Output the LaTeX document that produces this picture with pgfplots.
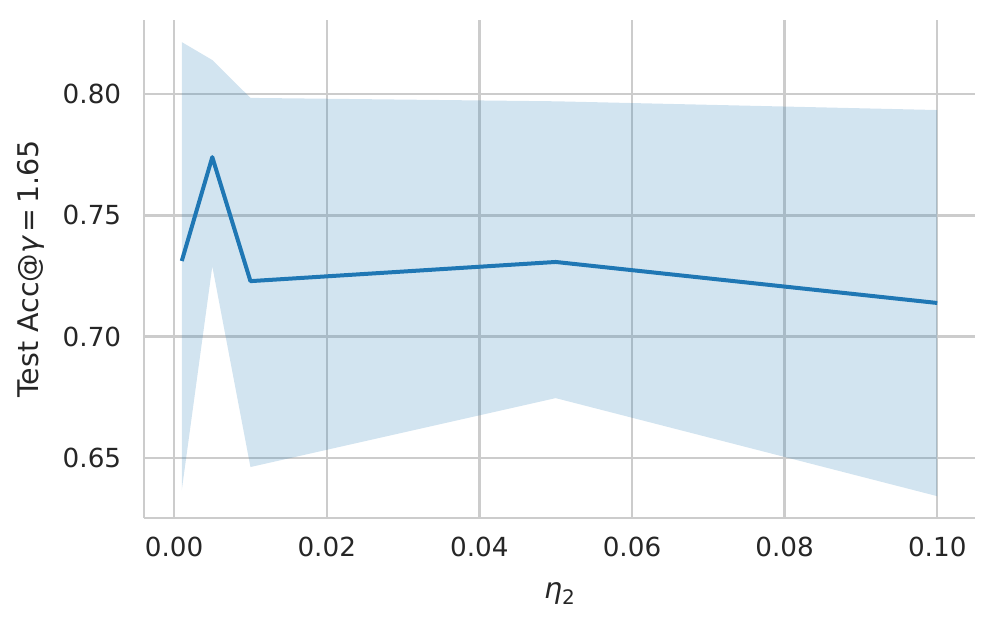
\documentclass[border=0pt]{standalone}
\usepackage{pgfplots}
\usepackage{pgfplotstable}
\pgfplotsset{compat=1.18}
\usepgfplotslibrary{fillbetween}
\usepackage{fontspec}
\setmainfont{DejaVu Sans}
\definecolor{tabblue}{HTML}{1F77B4}
\definecolor{gridgray}{HTML}{CCCCCC}
\definecolor{txt}{HTML}{262626}

% eta_2 sweep: mean test accuracy and band limits
\pgfplotstableread{
x      mean    lo      hi
0.001  0.7312  0.6368  0.8214
0.005  0.7740  0.7290  0.8140
0.01   0.7229  0.6463  0.7984
0.05   0.7308  0.6747  0.7970
0.1    0.7139  0.6343  0.7934
}\sweep

\begin{document}
\begin{tikzpicture}
\begin{axis}[
  name=ax,
  scale only axis,
  width=332.4pt, height=199.2pt,
  xmin=-0.00395, xmax=0.10495,
  ymin=0.6253, ymax=0.8305,
  xtick={0,0.02,0.04,0.06,0.08,0.1},
  ytick={0.65,0.70,0.75,0.80},
  xticklabel style={/pgf/number format/.cd, fixed, fixed zerofill, precision=2, /tikz/.cd, yshift=-4pt},
  yticklabel style={/pgf/number format/.cd, fixed, fixed zerofill, precision=2, /tikz/.cd, xshift=-5.6pt},
  scaled x ticks=false, scaled y ticks=false,
  /pgf/number format/assume math mode=true,
  ticklabel style={font=\fontsize{10.5}{12}\selectfont, text=txt},
  major tick length=0pt,
  axis x line*=bottom, axis y line*=left,
  axis line style={gridgray, line width=1pt, -},
  grid=major, grid style={gridgray, line width=1pt},
  xlabel={{\itshape η}\raisebox{-0.35ex}{\fontsize{8}{8}\selectfont 2}},
  ylabel={Test Acc@{\itshape γ}\,=\,1.65},
  label style={font=\fontsize{11.4}{13}\selectfont, text=txt},
  xlabel style={yshift=-3.6pt},
  ylabel style={yshift=0.5pt},
]
\addplot[name path=up, draw=none, forget plot] table[x=x, y=hi] {\sweep};
\addplot[name path=lo, draw=none, forget plot] table[x=x, y=lo] {\sweep};
\addplot[fill=tabblue, fill opacity=0.2, draw=none] fill between[of=up and lo];
\addplot[color=tabblue, line width=1.6pt, line join=round] table[x=x, y=mean] {\sweep};
\end{axis}
\path (ax.south west) ++(-57.6pt,-42pt) coordinate (bl);
\path (ax.north east) ++(8.4pt,8pt) coordinate (tr);
\path (bl) rectangle (tr);
\end{tikzpicture}
\end{document}
